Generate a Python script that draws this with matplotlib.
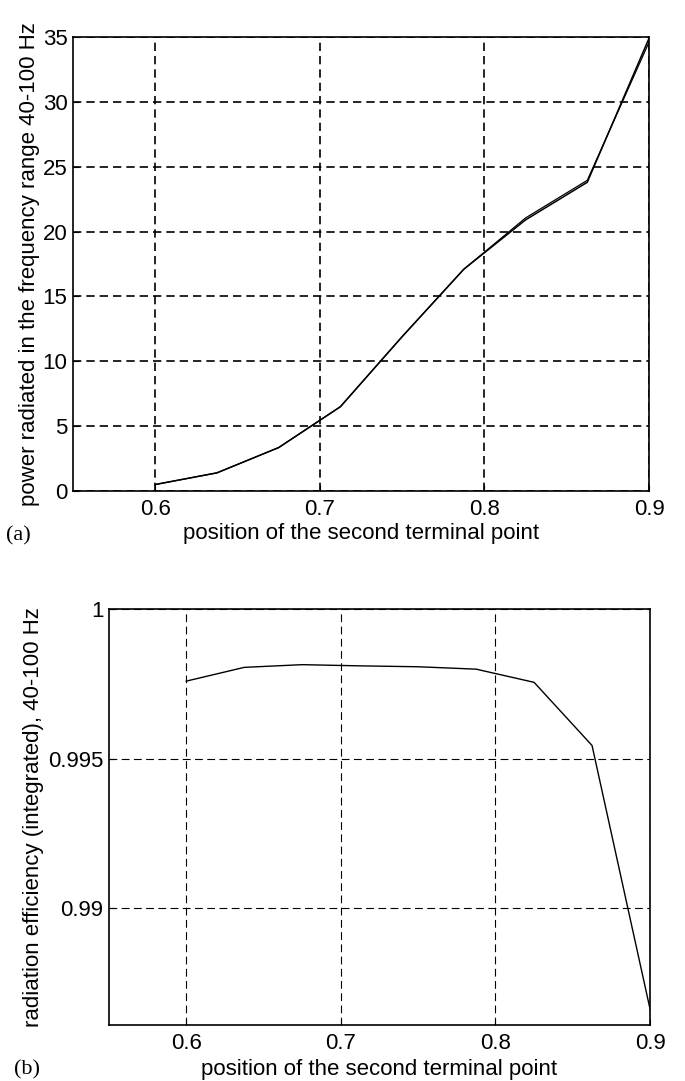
import matplotlib
matplotlib.use("Agg")
import matplotlib.pyplot as plt

plt.rcParams['font.family'] = ['Liberation Sans', 'DejaVu Sans']

# data
position = [0.6, 0.6375, 0.675, 0.7125, 0.75, 0.7875, 0.825, 0.8625, 0.9]
power_a = [0.5, 1.4, 3.35, 6.5, 11.9, 17.1, 20.9, 23.8, 34.9]
power_b = [0.5, 1.4, 3.35, 6.5, 11.9, 17.1, 21.05, 23.95, 34.6]
efficiency = [0.99759, 0.99805, 0.99814, 0.99810, 0.99807, 0.99799, 0.99755, 0.99544, 0.98664]

xticks = [0.6, 0.7, 0.8, 0.9]
xticklabels = ['0.6', '0.7', '0.8', '0.9']
yticks_a = [0, 5, 10, 15, 20, 25, 30, 35]
yticks_b = [0.99, 0.995, 1.0]
yticklabels_b = ['0.99', '0.995', '1']

W, H = 685, 1081
fig = plt.figure(figsize=(W / 100, H / 100), dpi=100)
fs = 16

# top panel: left 73, right 649, top 37, bottom 491 (pixels)
ax1 = fig.add_axes([73 / W, 1 - 491 / H, 576 / W, 454 / H])
ax1.plot(position, power_a, color='black', lw=1.1)
ax1.plot(position, power_b, color='black', lw=0.9)
ax1.set_xlim(0.55, 0.9)
ax1.set_ylim(0, 35)
ax1.set_xticks(xticks)
ax1.set_xticklabels(xticklabels)
ax1.set_yticks(yticks_a)
ax1.grid(True, color='black', linestyle=(0, (5, 3)), lw=1.2)
ax1.set_ylabel('power radiated in the frequency range 40-100 Hz', fontsize=fs)
ax1.yaxis.set_label_coords((40 - 73) / 576, 0.5)
ax1.set_xlabel('position of the second terminal point', fontsize=fs)
ax1.xaxis.set_label_coords(0.5, (491 - 523) / 454)

# bottom panel: left 109, right 650, top 609, bottom 1025 (pixels)
ax2 = fig.add_axes([109 / W, 1 - 1025 / H, 541 / W, 416 / H])
ax2.plot(position, efficiency, color='black', lw=1.0)
ax2.set_xlim(0.55, 0.9)
ax2.set_ylim(0.9861, 1.0)
ax2.set_xticks(xticks)
ax2.set_xticklabels(xticklabels)
ax2.set_yticks(yticks_b)
ax2.set_yticklabels(yticklabels_b)
ax2.grid(True, color='black', linestyle=(0, (7, 4)), lw=0.8)
ax2.set_ylabel('radiation efficiency (integrated), 40-100 Hz', fontsize=fs)
ax2.yaxis.set_label_coords((44 - 109) / 541, 0.5)
ax2.set_xlabel('position of the second terminal point', fontsize=fs)
ax2.xaxis.set_label_coords(0.5, (1025 - 1059) / 416)

for ax in (ax1, ax2):
    ax.tick_params(direction='in', length=4, labelsize=fs, width=0.8)
    ax.tick_params(axis='x', pad=6)
    ax.tick_params(axis='y', pad=4)
    for s in ax.spines.values():
        s.set_linewidth(1.2)

fig.text(6 / W, 1 - 536 / H, '(a)', fontsize=16, family='Liberation Serif', va='center')
fig.text(14 / W, 1 - 1070 / H, '(b)', fontsize=16, family='Liberation Serif', va='center')

fig.savefig('out.png', dpi=100)
